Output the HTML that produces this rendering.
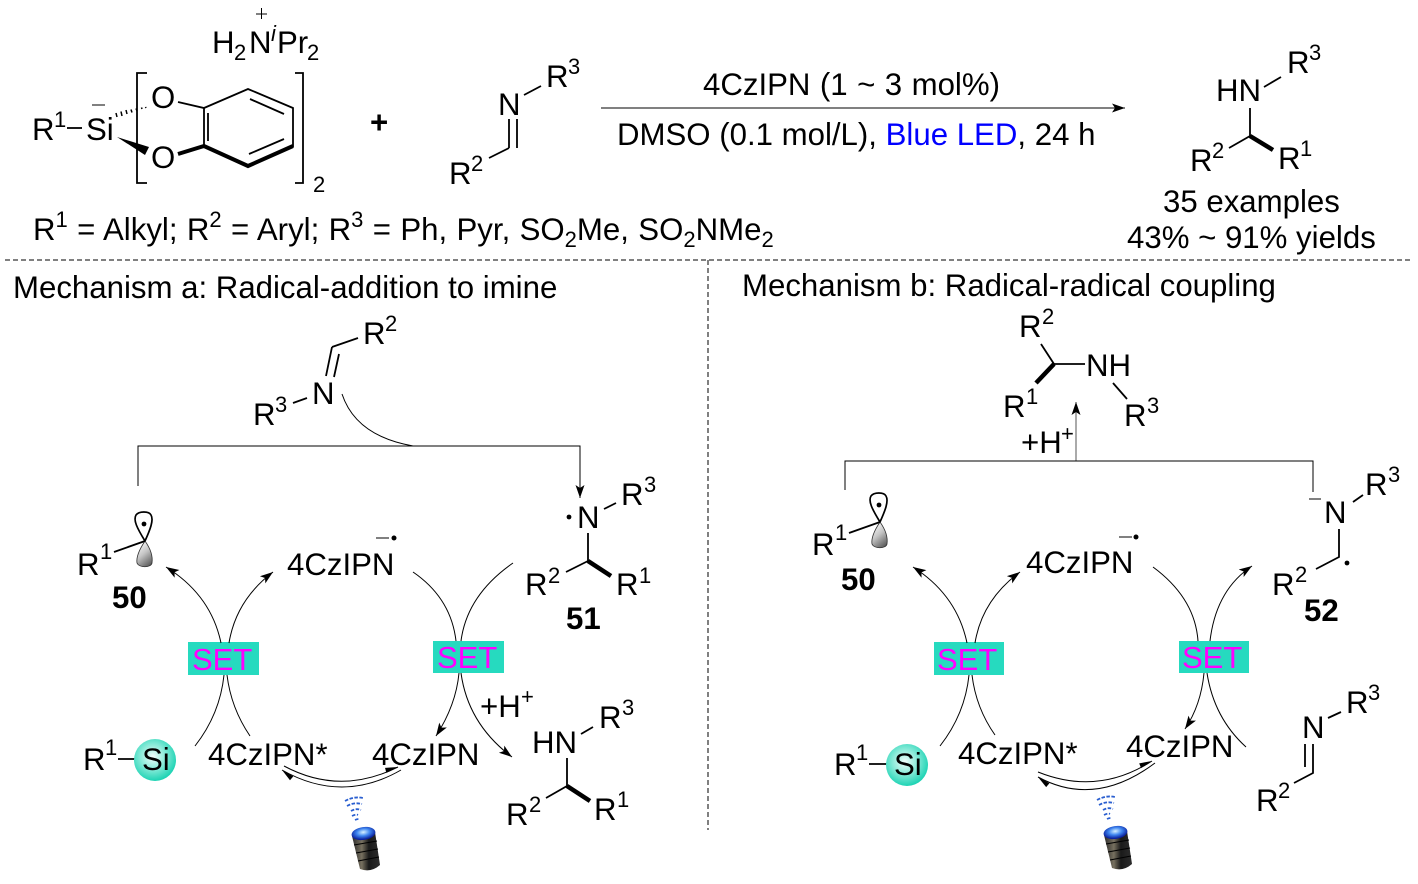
<!DOCTYPE html>
<html><head><meta charset="utf-8"><style>
html,body{margin:0;padding:0;background:#fff}
svg{display:block}
text{font-family:"Liberation Sans",sans-serif;font-size:31.2px;fill:#000}
.s{font-size:22px}
.b{font-weight:bold}
.bd{stroke:#000;stroke-width:1.8;fill:none}
.ln{stroke:#000;stroke-width:1;fill:none}
.set{fill:#26dabf}
.st{fill:#ff00ff;font-size:31px}
.w{stroke:#2a5fd0;stroke-width:1.8;fill:none;stroke-dasharray:3.5 1.5}
</style></head><body>
<svg xmlns="http://www.w3.org/2000/svg" width="1418" height="884" viewBox="0 0 1418 884">
<defs>
<marker id="a" markerUnits="userSpaceOnUse" markerWidth="16" markerHeight="12" refX="13" refY="5" orient="auto"><path d="M0,0.500 L13,5 L0,9.500 L3,5 Z" fill="#000"/></marker>
<marker id="h" markerUnits="userSpaceOnUse" markerWidth="16" markerHeight="12" refX="13" refY="8" orient="auto"><path d="M0,8 L13,8 L1,3 Z" fill="#000"/></marker>
<linearGradient id="lobe" x1="0.2" y1="0" x2="0.7" y2="1"><stop offset="0" stop-color="#ffffff"/><stop offset="0.5" stop-color="#c4c4c4"/><stop offset="1" stop-color="#606060"/></linearGradient>
<radialGradient id="ball" cx="0.45" cy="0.42" r="0.58"><stop offset="0" stop-color="#f2fdfb"/><stop offset="0.5" stop-color="#8aebd9"/><stop offset="1" stop-color="#1ed3b4"/></radialGradient>
<linearGradient id="can" x1="0" y1="0" x2="1" y2="0"><stop offset="0" stop-color="#2a2a2a"/><stop offset="0.35" stop-color="#77705f"/><stop offset="0.6" stop-color="#1a1a1a"/><stop offset="1" stop-color="#2c2c2c"/></linearGradient>
<radialGradient id="lit" cx="0.5" cy="0.4" r="0.55"><stop offset="0" stop-color="#d8f2ff"/><stop offset="0.5" stop-color="#3f86f0"/><stop offset="1" stop-color="#0a1f9c"/></radialGradient>
<g id="orb"><path d="M145,541 C137,528 133,520 136,515 C139,511 149,511 151,515 C154,520 150,530 145,541 Z" fill="#fff" stroke="#000" stroke-width="1.7"/><path d="M145,541 C139,550 136,557 137,563 C139,568 151,568 152,563 C153,556 150,548 145,541 Z" fill="url(#lobe)" stroke="#333" stroke-width="0.8"/><circle cx="144" cy="524" r="2.400" fill="#000"/></g>
<g id="lamp"><path d="M352,836 L375,832 L380,865 Q371,873 360,869 Z" fill="url(#can)"/><path d="M354,845 L377,841 M356,853 L378,849 M358,861 L379,857" stroke="#000" stroke-width="1" fill="none"/><ellipse cx="363.500" cy="833.500" rx="12" ry="6.500" fill="url(#lit)" transform="rotate(-8 363.500 833.500)"/><path d="M345,801 Q354,796 363,798" class="w"/><path d="M347,806 Q354,802 362,804" class="w"/><path d="M351,811 Q356,808 361,810" class="w"/><path d="M352,816 Q356,814 358,815" class="w"/><path d="M355,820 Q357,819 359,819" class="w"/></g>
</defs>

<!-- top reactant -->
<path d="M256,14 H267 M261.500,8 V19" class="ln"/>
<text x="212" y="53">H</text><text x="234" y="60" class="s">2</text><text x="249" y="53">N</text><text x="271" y="41" class="s" font-style="italic">i</text><text x="277" y="53">Pr</text><text x="307" y="60" class="s">2</text>
<text x="32" y="140">R</text><text x="54" y="127" class="s">1</text>
<path d="M67,128 H82" class="bd"/>
<path d="M92,105 H105" class="ln"/>
<text x="86" y="140">Si</text>
<text x="151" y="108">O</text><text x="151" y="168">O</text>
<path d="M117,117 L116,113 M122,116 L121,111.500 M127,114 L126,110 M132,112.500 L131,109.500 M137,111 L136,108.500 M142,109 L141.500,107.500 M146,108 L145.500,107" stroke="#000" stroke-width="1.500" fill="none"/>
<path d="M117,137 L149,147 L145,155 Z" fill="#000"/>
<path d="M178,102 L204,108 L248,89 L293,108 V147" class="bd"/>
<path d="M204,108 V146 M208,113 V141 M250,99 L284,114 M249,154 L284,139" class="bd"/>
<path d="M178,154 L204,146 L248,166 L293,146" stroke="#000" stroke-width="4" fill="none"/>
<path d="M147,73 H137 V183 H147 M295,73 H303 V183 H295" class="bd"/>
<text x="313" y="192" class="s">2</text>
<text x="370" y="133" class="b">+</text>

<!-- imine -->
<text x="498" y="115">N</text><text x="546" y="87">R</text><text x="568" y="74" class="s">3</text>
<path d="M524,95 L541,86 M509,119 V148 M517,119 V148 M509,148 L489,158" class="bd"/>
<text x="449" y="184">R</text><text x="471" y="171" class="s">2</text>

<!-- reaction arrow -->
<path d="M601,108 H1125" class="ln" marker-end="url(#a)"/>
<text x="703" y="95" word-spacing="0.800">4CzIPN (1 ~ 3 mol%)</text>
<text x="617" y="145">DMSO (0.1 mol/L), <tspan fill="#0000ff">Blue LED</tspan>, 24 h</text>

<!-- top product -->
<text x="1216" y="101">HN</text><text x="1287" y="73">R</text><text x="1309" y="60" class="s">3</text>
<path d="M1264,87 L1281,77 M1250,108 V136 M1250,136 L1229,148" class="bd"/>
<path d="M1250,136 L1273,150" stroke="#000" stroke-width="4.500" fill="none"/>
<text x="1190" y="171">R</text><text x="1212" y="158" class="s">2</text>
<text x="1278" y="169">R</text><text x="1300" y="156" class="s">1</text>
<text x="1163" y="212">35 examples</text>
<text x="1127" y="248">43% ~ 91% yields</text>

<text x="33" y="240" word-spacing="0.700">R<tspan class="s" dy="-13">1</tspan><tspan dy="13"> = Alkyl; R</tspan><tspan class="s" dy="-13">2</tspan><tspan dy="13"> = Aryl; R</tspan><tspan class="s" dy="-13">3</tspan><tspan dy="13"> = Ph, Pyr, SO</tspan><tspan class="s" dy="7">2</tspan><tspan dy="-7">Me, SO</tspan><tspan class="s" dy="7">2</tspan><tspan dy="-7">NMe</tspan><tspan class="s" dy="7">2</tspan></text>

<!-- dividers -->
<path d="M5,260 H1410 M708,260 V830" stroke="#000" stroke-width="1" stroke-dasharray="5 3" fill="none"/>
<text x="13" y="298">Mechanism a: Radical-addition to imine</text>
<text x="742" y="296">Mechanism b: Radical-radical coupling</text>

<!-- ===== mechanism a ===== -->
<text x="363" y="344">R</text><text x="385" y="331" class="s">2</text>
<path d="M332,347 L358,338 M332,347 L326,376 M339,354 L334,377 M293,403 L307,398" class="bd"/>
<text x="312" y="404">N</text>
<text x="253" y="425">R</text><text x="275" y="412" class="s">3</text>
<path d="M342,394 Q356,436 413,446" class="ln"/>
<path d="M138,486 V446 H580 V498" class="ln" marker-end="url(#a)"/>

<use href="#orb"/>
<text x="77" y="575">R</text><text x="100" y="559" class="s">1</text>
<path d="M114,552 L145,541" class="bd"/>
<text x="112" y="608" class="b">50</text>

<text x="287" y="575">4CzIPN</text>
<path d="M376,538 H389" class="ln"/><circle cx="394" cy="538" r="2.500" fill="#000"/>

<rect x="188" y="642" width="71" height="33" class="set"/>
<text x="192" y="670" class="st">SET</text>
<path d="M221,643 Q211,595 166,567" class="ln" marker-end="url(#a)"/>
<path d="M229,643 Q236,600 273,572" class="ln" marker-end="url(#a)"/>
<path d="M224,675 Q220,714 195,746" class="ln"/>
<path d="M227,675 Q231,708 250,736" class="ln"/>

<rect x="433" y="641" width="71" height="32" class="set"/>
<text x="437" y="668" class="st">SET</text>
<path d="M413,572 Q451,598 456,641" class="ln"/>
<path d="M513,563 Q467,595 461,641" class="ln"/>
<path d="M459,673 Q456,705 436,736" class="ln" marker-end="url(#a)"/>
<path d="M461,673 Q468,724 512,757" class="ln" marker-end="url(#a)"/>

<text x="83" y="770">R</text><text x="105" y="755" class="s">1</text>
<path d="M118,759 H136" class="bd"/>
<circle cx="155" cy="760" r="21" fill="url(#ball)"/>
<text x="142" y="770">Si</text>
<text x="208" y="765">4CzIPN*</text>
<text x="372" y="765">4CzIPN</text>
<path d="M284,766 Q340,796 398,767" class="ln" marker-end="url(#h)"/>
<path d="M401,770 Q342,804 282,770" class="ln" marker-end="url(#h)"/>
<use href="#lamp"/>

<text x="480" y="717">+H</text><text x="521" y="704" class="s">+</text>
<text x="577" y="528">N</text><circle cx="569" cy="517" r="2.400" fill="#000"/>
<text x="621" y="505">R</text><text x="644" y="492" class="s">3</text>
<path d="M604,509 L616,503 M588,533 V561 M588,561 L566,572" class="bd"/>
<path d="M588,561 L611,576" stroke="#000" stroke-width="4.500" fill="none"/>
<text x="525" y="595">R</text><text x="548" y="583" class="s">2</text>
<text x="616" y="595">R</text><text x="639" y="583" class="s">1</text>
<text x="566" y="629" class="b">51</text>

<text x="532" y="753">HN</text><text x="599" y="728">R</text><text x="622" y="715" class="s">3</text>
<path d="M581,734 L593,727 M567,758 V786 M567,786 L546,798" class="bd"/>
<path d="M567,786 L590,801" stroke="#000" stroke-width="4.500" fill="none"/>
<text x="506" y="825">R</text><text x="529" y="812" class="s">2</text>
<text x="594" y="820">R</text><text x="617" y="807" class="s">1</text>

<!-- ===== mechanism b ===== -->
<text x="1019" y="337">R</text><text x="1042" y="324" class="s">2</text>
<path d="M1041,344 L1054,364 H1085 M1113,383 L1127,399" class="bd"/>
<path d="M1054,364 L1036,383" stroke="#000" stroke-width="4.500" fill="none"/>
<text x="1086" y="376">NH</text>
<text x="1003" y="417">R</text><text x="1026" y="404" class="s">1</text>
<text x="1124" y="426">R</text><text x="1147" y="413" class="s">3</text>
<path d="M1076,461 V402" stroke="#555" stroke-width="1" fill="none" marker-end="url(#a)"/>
<text x="1021" y="453">+H</text><text x="1061" y="441" class="s">+</text>
<path d="M845,490 V461 H1313 V492" class="ln"/>

<g transform="translate(735,-19)"><use href="#orb"/></g>
<text x="812" y="555">R</text><text x="835" y="540" class="s">1</text>
<path d="M849,533 L880,522" class="bd"/>
<text x="841" y="590" class="b">50</text>

<text x="1026" y="573">4CzIPN</text>
<path d="M1119,537 H1132" class="ln"/><circle cx="1136" cy="537" r="2.500" fill="#000"/>

<rect x="934" y="642" width="70" height="33" class="set"/>
<text x="937" y="670" class="st">SET</text>
<path d="M967,643 Q957,595 913,567" class="ln" marker-end="url(#a)"/>
<path d="M975,643 Q982,600 1020,572" class="ln" marker-end="url(#a)"/>
<path d="M969,675 Q965,714 940,746" class="ln"/>
<path d="M972,675 Q976,708 995,735" class="ln"/>

<rect x="1179" y="641" width="70" height="32" class="set"/>
<text x="1182" y="668" class="st">SET</text>
<path d="M1153,567 Q1195,598 1198,641" class="ln"/>
<path d="M1210,641 Q1216,590 1252,566" class="ln" marker-end="url(#a)"/>
<path d="M1204,673 Q1201,705 1185,729" class="ln" marker-end="url(#a)"/>
<path d="M1207,673 Q1214,718 1246,747" class="ln"/>

<text x="834" y="775">R</text><text x="856" y="760" class="s">1</text>
<path d="M869,764 H888" class="bd"/>
<circle cx="907" cy="765" r="21" fill="url(#ball)"/>
<text x="894" y="775">Si</text>
<text x="958" y="764">4CzIPN*</text>
<text x="1126" y="757">4CzIPN</text>
<path d="M1038,772 Q1098,796 1152,761" class="ln" marker-end="url(#h)"/>
<path d="M1155,763 Q1095,808 1038,777" class="ln" marker-end="url(#h)"/>
<g transform="translate(752,-1)"><use href="#lamp"/></g>

<path d="M1309,499 H1321" class="ln"/>
<text x="1324" y="523">N</text>
<text x="1365" y="495">R</text><text x="1388" y="482" class="s">3</text>
<path d="M1353,502 L1363,495 M1339,529 V557 L1316,569" class="bd"/>
<circle cx="1347" cy="563" r="2.400" fill="#000"/>
<text x="1272" y="595">R</text><text x="1295" y="582" class="s">2</text>
<text x="1304" y="621" class="b">52</text>

<text x="1302" y="738">N</text>
<text x="1346" y="713">R</text><text x="1368" y="700" class="s">3</text>
<path d="M1328,718 L1341,712 M1305,744 V767 M1313,744 V773 L1294,783" class="bd"/>
<text x="1256" y="811">R</text><text x="1278" y="798" class="s">2</text>
</svg>
</body></html>
